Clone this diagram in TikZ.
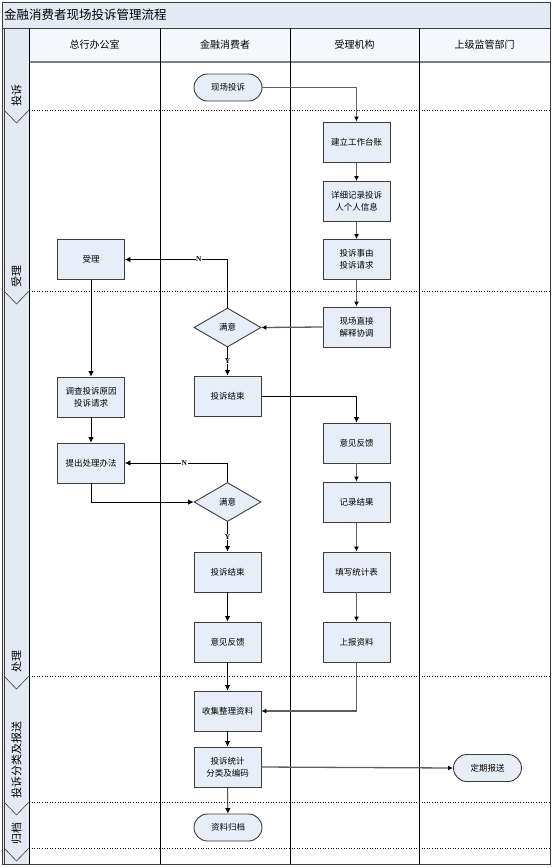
\documentclass[tikz,border=0pt]{standalone}
\usepackage{fontspec}
\setmainfont{Noto Sans CJK SC}
\newfontfamily\yn{Liberation Serif}
\usetikzlibrary{shapes.geometric,shapes.misc,arrows.meta}
\definecolor{boxblue}{HTML}{E8EEF7}
\definecolor{hdrblue}{HTML}{E4EAF4}
\definecolor{edgegray}{HTML}{3C3C3C}
\definecolor{flowgray}{HTML}{5E5E5E}
\tikzset{
  procbox/.style={draw=edgegray,line width=0.9pt,fill=boxblue,minimum width=67pt,minimum height=40pt,inner sep=0pt,align=center,font=\fontsize{8.5}{12}\selectfont},
  termbox/.style={draw=edgegray,line width=0.9pt,fill=boxblue,rounded rectangle,minimum width=68pt,minimum height=27pt,inner sep=0pt,font=\fontsize{8.5}{12}\selectfont},
  decbox/.style={draw=edgegray,line width=0.9pt,fill=boxblue,diamond,aspect=1.72,minimum width=67pt,minimum height=39pt,inner sep=0pt,font=\fontsize{8.5}{12}\selectfont},
  blk/.style={draw=black,line width=0.7pt,-{Latex[length=5.5pt,width=5.5pt]}},
  gry/.style={draw=flowgray,line width=1.3pt,-{Latex[length=5pt,width=5pt,color=black]}},
  ynlab/.style={fill=white,inner sep=0.5pt,font=\yn\bfseries\fontsize{7.5}{8}\selectfont},
  phase/.style={rotate=90,anchor=west,inner sep=0pt,font=\fontsize{11}{13}\selectfont},
  lanehead/.style={font=\fontsize{10}{12}\selectfont},
  sep/.style={draw=black,line width=0.6pt,dotted}
}
\begin{document}
\begin{tikzpicture}[x=1pt,y=-1pt]
\useasboundingbox (0,0) rectangle (554,868);
% title and header
\fill[hdrblue] (2,2) rectangle (550,28);
\fill[hdrblue!40!white] (29,28) rectangle (550,62);
\fill[hdrblue] (2,28) rectangle (29,864);
\node[anchor=west,inner sep=0pt,font=\fontsize{12.5}{14}\selectfont] (title) at (4,15) {金融消费者现场投诉管理流程};
\draw[edgegray,line width=0.8pt] (2,28) -- (550,28);
\draw[gray,line width=1.6pt] (29,62) -- (550,62);
% lane separators
\foreach \x in {29,160,290,419} \draw[black,line width=0.9pt] (\x,28) -- (\x,864);
\draw[edgegray,line width=0.6pt] (4,28) -- (4,864);
% dotted phase separators
\foreach \y in {110,291,676,802,848} {
  \draw[sep] (29,\y) -- (550,\y);
  \draw[edgegray,line width=0.6pt] (4,\y) -- (16.5,\y+13) -- (29,\y);
}
\draw[edgegray,line width=1pt] (2,2) rectangle (550,864);
% lane headers
\node[lanehead] (h1) at (94.5,45) {总行办公室};
\node[lanehead] (h2) at (225,45) {金融消费者};
\node[lanehead] (h3) at (354.5,45) {受理机构};
\node[lanehead] (h4) at (484.5,45) {上级监管部门};
% phase labels
\node[phase] (p1) at (16.5,107) {投诉};
\node[phase] (p2) at (16.5,288) {受理};
\node[phase] (p3) at (16.5,673) {处理};
\node[phase] (p4) at (16.5,799) {投诉分类及报送};
\node[phase] (p5) at (16.5,845) {归档};
% nodes
\node[termbox] (t1) at (228,87.5) {现场投诉};
\node[procbox] (b1) at (356.5,142) {建立工作台账};
\node[procbox] (b2) at (356.5,201.5) {详细记录投诉\\人个人信息};
\node[procbox] (b3) at (356.5,259.5) {投诉事由\\投诉请求};
\node[procbox] (b4) at (356.5,327) {现场直接\\解释协调};
\node[decbox] (d1) at (227.5,327.5) {满意};
\node[procbox] (a1) at (91,259.5) {受理};
\node[procbox] (a2) at (91,397) {调查投诉原因\\投诉请求};
\node[procbox] (a3) at (91,463) {提出处理办法};
\node[procbox] (e1) at (227.5,396) {投诉结束};
\node[procbox] (c1) at (356.5,443) {意见反馈};
\node[procbox] (c2) at (356.5,502) {记录结果};
\node[procbox] (c3) at (356.5,572) {填写统计表};
\node[procbox] (c4) at (356.5,642) {上报资料};
\node[decbox] (d2) at (227.5,502) {满意};
\node[procbox] (e2) at (227.5,572) {投诉结束};
\node[procbox] (e3) at (227.5,642) {意见反馈};
\node[procbox] (f1) at (227.5,711) {收集整理资料};
\node[procbox] (f2) at (227.5,767) {投诉统计\\分类及编码};
\node[termbox] (t2) at (228,827.5) {资料归档};
\node[termbox] (t3) at (487.5,768) {定期报送};
% connectors
\draw[gry] (t1.east) -| (b1.north);
\draw[gry] (b1) -- (b2);
\draw[gry] (b2) -- (b3);
\draw[gry] (b3) -- (b4);
\draw[gry] (b4.west) -- (d1.east);
\draw[blk] (d1.north) |- node[ynlab,pos=0.64] {N} (a1.east);
\draw[blk] (d1.south) -- node[ynlab,pos=0.5] {Y} (e1.north);
\draw[blk] (a1) -- (a2);
\draw[blk] (a2) -- (a3);
\draw[blk] (e1.east) -| (c1.north);
\draw[gry] (c1) -- (c2);
\draw[gry] (c2) -- (c3);
\draw[gry] (c3) -- (c4);
\draw[blk] (a3.south) |- (d2.west);
\draw[blk] (d2.north) |- node[ynlab,pos=0.71] {N} (a3.east);
\draw[blk] (d2.south) -- node[ynlab,pos=0.5] {Y} (e2.north);
\draw[blk] (e2) -- (e3);
\draw[blk] (e3) -- (f1);
\draw[gry] (c4.south) |- (f1.east);
\draw[blk] (f1) -- (f2);
\draw[blk] (f2) -- (t2);
\draw[gry] (f2.east) -- (t3.west);
\end{tikzpicture}
\end{document}
